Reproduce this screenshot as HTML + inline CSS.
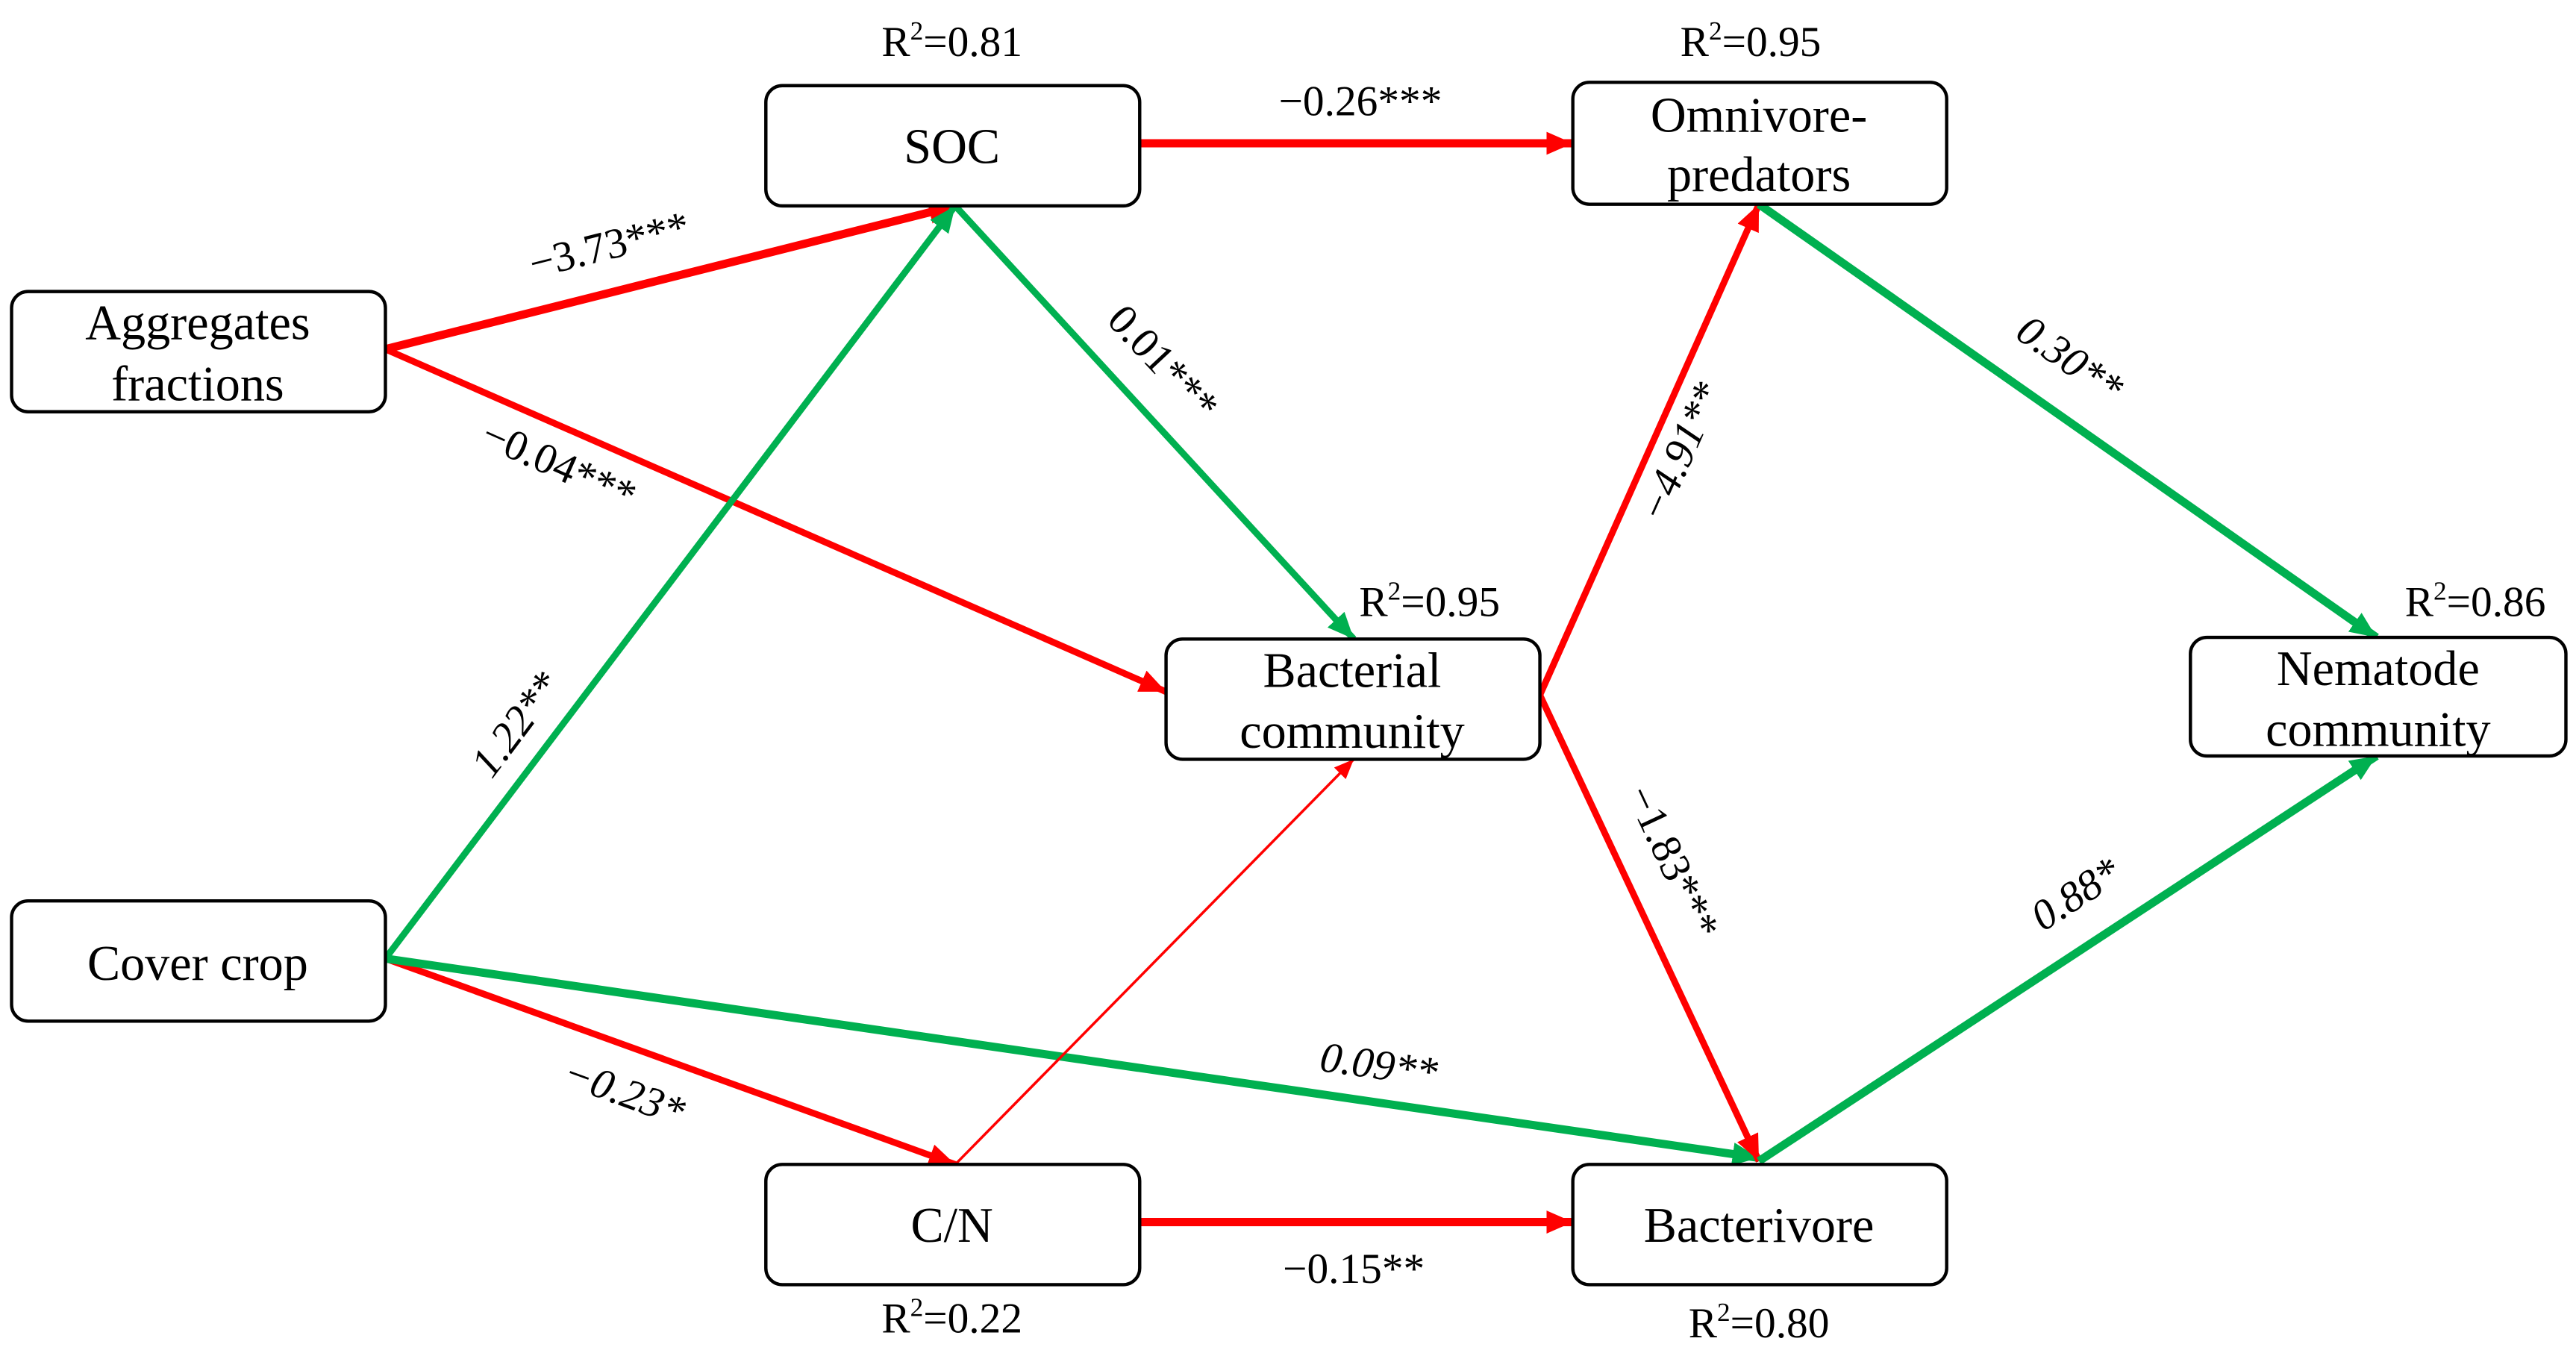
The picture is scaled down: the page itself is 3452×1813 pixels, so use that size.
<!DOCTYPE html>
<html><head><meta charset="utf-8"><style>
html,body{margin:0;padding:0;background:#fff;}
svg{display:block;}
svg text{font-family:"Liberation Serif","DejaVu Serif",serif !important;fill:#000;}
</style></head><body>
<svg width="3452" height="1813" viewBox="0 0 1564.1 821.5" xmlns="http://www.w3.org/2000/svg" font-family="Liberation Serif, DejaVu Serif, serif">
<defs>
<marker id="ar" markerUnits="userSpaceOnUse" markerWidth="18" markerHeight="16" refX="16" refY="7" orient="auto"><path d="M0,0 L16,7 L0,14 z" fill="#ff0000"/></marker>
<marker id="ag" markerUnits="userSpaceOnUse" markerWidth="18" markerHeight="16" refX="16" refY="7" orient="auto"><path d="M0,0 L16,7 L0,14 z" fill="#00b050"/></marker>
<marker id="art" markerUnits="userSpaceOnUse" markerWidth="14" markerHeight="12" refX="12" refY="5" orient="auto"><path d="M0,0 L12,5 L0,10 z" fill="#ff0000"/></marker>
</defs>
<g fill="none" stroke-linecap="butt">
<line x1="692" y1="87" x2="955" y2="87" stroke="#ff0000" stroke-width="5" marker-end="url(#ar)"/>
<line x1="234" y1="212" x2="580" y2="125" stroke="#ff0000" stroke-width="5" marker-end="url(#ar)"/>
<line x1="234" y1="212" x2="708" y2="420" stroke="#ff0000" stroke-width="4" marker-end="url(#ar)"/>
<line x1="580" y1="125" x2="822" y2="388" stroke="#00b050" stroke-width="4" marker-end="url(#ag)"/>
<line x1="234" y1="582" x2="580" y2="125" stroke="#00b050" stroke-width="4" marker-end="url(#ag)"/>
<line x1="234" y1="582" x2="580" y2="707" stroke="#ff0000" stroke-width="4" marker-end="url(#ar)"/>
<line x1="234" y1="582" x2="1068" y2="703" stroke="#00b050" stroke-width="5" marker-end="url(#ag)"/>
<line x1="580" y1="707" x2="822" y2="461" stroke="#ff0000" stroke-width="1.6" marker-end="url(#art)"/>
<line x1="692" y1="742" x2="955" y2="742" stroke="#ff0000" stroke-width="5" marker-end="url(#ar)"/>
<line x1="935" y1="422" x2="1068" y2="124" stroke="#ff0000" stroke-width="4" marker-end="url(#ar)"/>
<line x1="935" y1="422" x2="1068" y2="705" stroke="#ff0000" stroke-width="4" marker-end="url(#ar)"/>
<line x1="1068" y1="124" x2="1443" y2="387" stroke="#00b050" stroke-width="5" marker-end="url(#ag)"/>
<line x1="1068" y1="705" x2="1443" y2="459" stroke="#00b050" stroke-width="5" marker-end="url(#ag)"/>
</g>
<g fill="#fff" stroke="#000" stroke-width="2">
<rect x="465" y="52" width="227" height="73" rx="10"/>
<rect x="955" y="50" width="227" height="74" rx="10"/>
<rect x="7" y="177" width="227" height="73" rx="10"/>
<rect x="708" y="388" width="227" height="73" rx="10"/>
<rect x="1330" y="387" width="228" height="72" rx="10"/>
<rect x="7" y="547" width="227" height="73" rx="10"/>
<rect x="465" y="707" width="227" height="73" rx="10"/>
<rect x="955" y="707" width="227" height="73" rx="10"/>
</g>
<g font-size="30" text-anchor="middle">
<text x="578" y="99">SOC</text>
<text x="1068" y="80">Omnivore-</text>
<text x="1068" y="116">predators</text>
<text x="120" y="206">Aggregates</text>
<text x="120" y="243">fractions</text>
<text x="821" y="417">Bacterial</text>
<text x="821" y="454">community</text>
<text x="1444" y="416">Nematode</text>
<text x="1444" y="453">community</text>
<text x="120" y="595">Cover crop</text>
<text x="578" y="754">C/N</text>
<text x="1068" y="754">Bacterivore</text>
</g>
<g font-size="26" text-anchor="middle">
<text x="578" y="34">R<tspan font-size="16" dy="-10">2</tspan><tspan dy="10">=0.81</tspan></text>
<text x="1063" y="34">R<tspan font-size="16" dy="-10">2</tspan><tspan dy="10">=0.95</tspan></text>
<text x="868" y="374">R<tspan font-size="16" dy="-10">2</tspan><tspan dy="10">=0.95</tspan></text>
<text x="1503" y="374">R<tspan font-size="16" dy="-10">2</tspan><tspan dy="10">=0.86</tspan></text>
<text x="578" y="809">R<tspan font-size="16" dy="-10">2</tspan><tspan dy="10">=0.22</tspan></text>
<text x="1068" y="812">R<tspan font-size="16" dy="-10">2</tspan><tspan dy="10">=0.80</tspan></text>
<text x="826" y="70">−0.26***</text>
<text x="822" y="779">−0.15**</text>
<text transform="translate(372,157) rotate(-14)">−3.73***</text>
<text transform="translate(336,290) rotate(24)">−0.04***</text>
<text transform="translate(700,226) rotate(47)">0.01***</text>
<text transform="translate(320,445) rotate(-53)" font-style="italic">1.22**</text>
<text transform="translate(376,671) rotate(20)" font-style="italic">−0.23*</text>
<text transform="translate(836,655) rotate(8)" font-style="italic">0.09**</text>
<text transform="translate(1028,278) rotate(-66)" font-style="italic">−4.91**</text>
<text transform="translate(1008,527) rotate(65)">−1.83***</text>
<text transform="translate(1252,225) rotate(35)" font-style="italic">0.30**</text>
<text transform="translate(1265,550) rotate(-33)" font-style="italic">0.88*</text>
</g>
</svg>
</body></html>
